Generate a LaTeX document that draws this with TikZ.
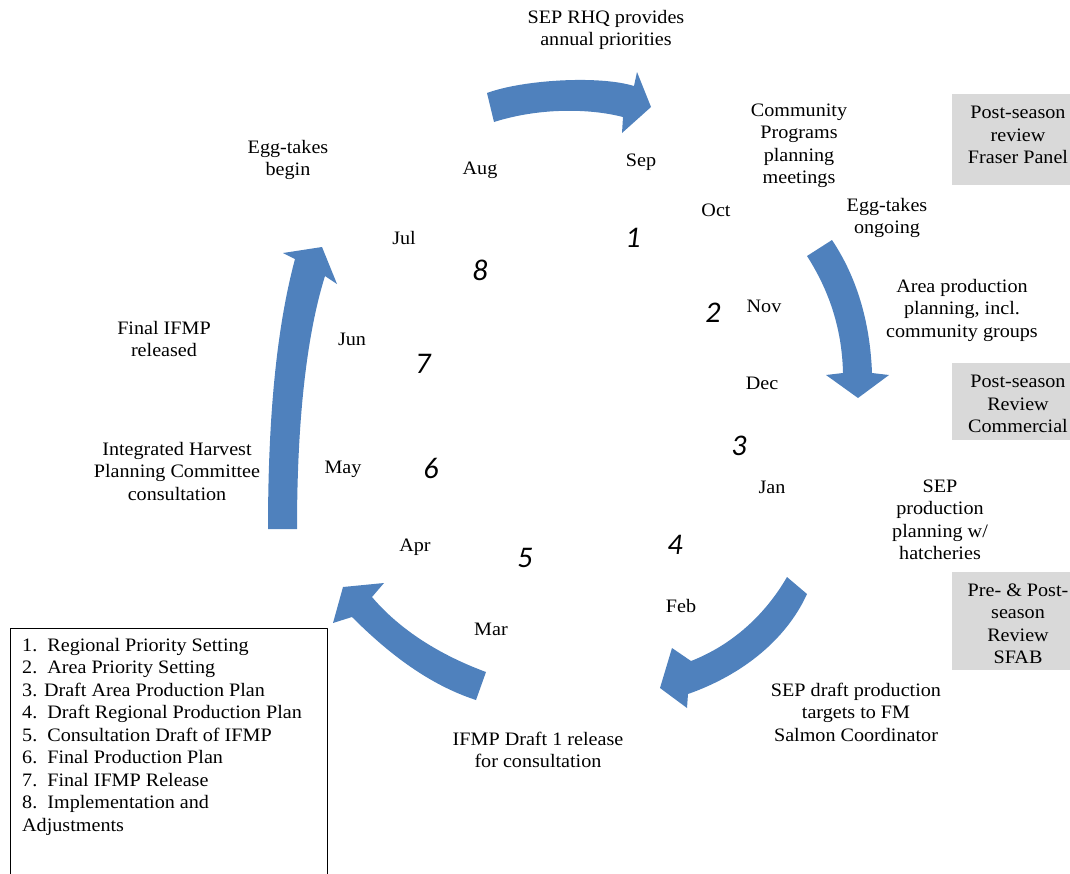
\documentclass[tikz,border=0pt]{standalone}
\usepackage{fontspec}
\setmainfont[FakeStretch=1.06]{Liberation Serif}
\newfontfamily\numfont{Carlito}
\definecolor{cycleblue}{RGB}{79,129,189}
\definecolor{reviewgrey}{RGB}{217,217,217}

\begin{document}
\begin{tikzpicture}[x=1pt, y=-1pt, line join=round,
  every node/.style={font=\fontsize{19}{22.5}\selectfont, inner sep=0pt, align=center},
  stagenum/.style={font=\fontsize{30}{30}\numfont\itshape},
  reviewbox/.style={fill=reviewgrey},
  blockarrow/.style={fill=cycleblue, draw=none}]
  \useasboundingbox (0,0) rectangle (1070,873);

  % big curved arrows of the cycle
  \fill[blockarrow] (487,93) .. controls (522,80) and (598,75) .. (634,86)
    -- (637,72) -- (651,107) -- (622,133) -- (623,117)
    .. controls (588,108) and (538,108) .. (494,122) -- cycle;
  \fill[blockarrow] (807,256) .. controls (830,292) and (842,330) .. (843,373)
    -- (826,375) -- (858,398) -- (889,375) -- (872,373)
    .. controls (870,320) and (856,276) .. (832,240) -- cycle;
  \fill[blockarrow] (787,577) .. controls (765,615) and (732,645) .. (691,661)
    -- (672,648) -- (660,688) -- (687,708) -- (688,694)
    .. controls (742,675) and (786,640) .. (807,594) -- cycle;
  \fill[blockarrow] (486,672) .. controls (440,655) and (400,630) .. (372,597)
    -- (384,583) -- (343,587) -- (333,623) -- (352,617)
    .. controls (390,655) and (430,685) .. (476,700) -- cycle;
  \fill[blockarrow] (268,529) .. controls (268,420) and (276,330) .. (295,259)
    -- (283,253) -- (322,247) -- (337,284) -- (325,276)
    .. controls (305,340) and (297,430) .. (297,529) -- cycle;

  % months
  \node (sep) at (641,162) {Sep};
  \node (oct) at (716,210) {Oct};
  \node (nov) at (764,306) {Nov};
  \node (dec) at (762,383) {Dec};
  \node (jan) at (772,487) {Jan};
  \node (feb) at (681,606) {Feb};
  \node (mar) at (491,629) {Mar};
  \node (apr) at (415,547) {Apr};
  \node (may) at (343,469) {May};
  \node (jun) at (352,339) {Jun};
  \node (jul) at (404,238) {Jul};
  \node (aug) at (480,170) {Aug};

  % stage numbers
  \node[stagenum] (s1) at (633,238) {1};
  \node[stagenum] (s2) at (713,313) {2};
  \node[stagenum] (s3) at (739,446) {3};
  \node[stagenum] (s4) at (675,545) {4};
  \node[stagenum] (s5) at (525,558) {5};
  \node[stagenum] (s6) at (431,468) {6};
  \node[stagenum] (s7) at (423,364) {7};
  \node[stagenum] (s8) at (480,270) {8};

  % activities
  \node (rhq) at (606,30) {SEP RHQ provides\\annual priorities};
  \node (cpp) at (799,146) {Community\\Programs\\planning\\meetings};
  \node (eggon) at (887,218) {Egg-takes\\ongoing};
  \node (area) at (962,310) {Area production\\planning, incl.\\community groups};
  \node (sepprod) at (940,520) {SEP\\production\\planning w/\\hatcheries};
  \node (draft) at (856,712) {SEP draft production\\targets to FM\\Salmon Coordinator};
  \node (ifmp1) at (538,750) {IFMP Draft 1 release\\for consultation};
  \node (ihpc) at (177,471) {Integrated Harvest\\Planning Committee\\consultation};
  \node (final) at (164,339) {Final IFMP\\released};
  \node (eggbeg) at (288,160) {Egg-takes\\begin};

  % review boxes
  \fill[reviewbox] (952,94) rectangle (1070,185);
  \node (fraser) at (1018,135) {Post-season\\review\\Fraser Panel};
  \fill[reviewbox] (952,363) rectangle (1070,440);
  \node (comm) at (1018,404) {Post-season\\Review\\Commercial};
  \fill[reviewbox] (952,572) rectangle (1070,670);
  \node (sfab) at (1018,624) {Pre- \& Post-\\season\\Review\\SFAB};

  % legend
  \draw[line width=.8pt] (10,890) -- (10,628) -- (327,628) -- (327,890);
  \node[anchor=north west, align=left] (legend) at (22,638)
    {1.\ \ Regional Priority Setting\\
     2.\ \ Area Priority Setting\\
     3. Draft Area Production Plan\\
     4.\ \ Draft Regional Production Plan\\
     5.\ \ Consultation Draft of IFMP\\
     6.\ \ Final Production Plan\\
     7.\ \ Final IFMP Release\\
     8.\ \ Implementation and\\
     Adjustments};
\end{tikzpicture}
\end{document}
